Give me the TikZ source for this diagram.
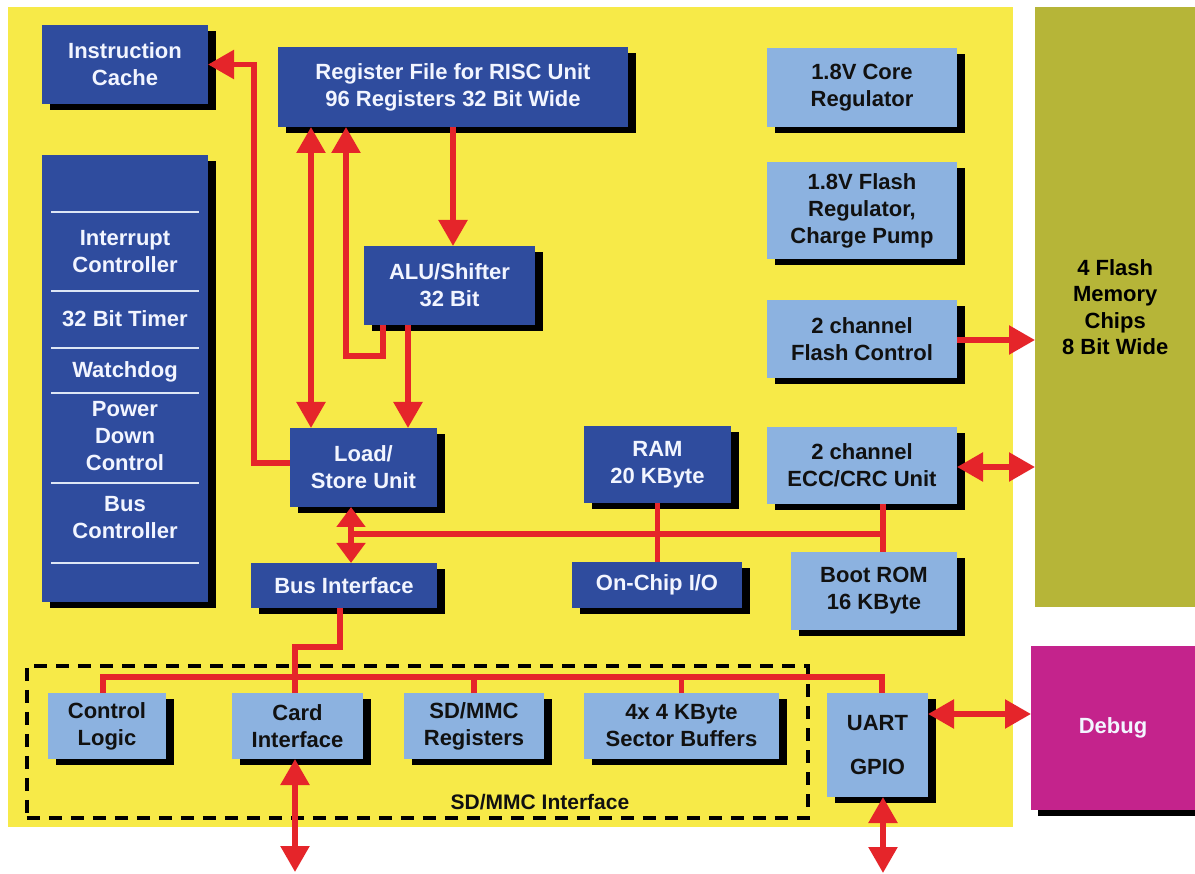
\documentclass[tikz,border=0pt]{standalone}
\usepackage{fontspec}
\setmainfont{Liberation Sans}
\usetikzlibrary{arrows.meta,shadows,calc}
\definecolor{bgyellow}{HTML}{F7EA48}
\definecolor{darkblue}{HTML}{2F4C9E}
\definecolor{lightblue}{HTML}{8CB2E0}
\definecolor{boxwhite}{HTML}{F2F5FF}
\definecolor{boxdark}{HTML}{111111}
\definecolor{wirered}{HTML}{E5252A}
\definecolor{olive}{HTML}{B6B538}
\definecolor{magentabox}{HTML}{C4238C}
\definecolor{seplight}{HTML}{DDE6F5}
\begin{document}
\begin{tikzpicture}[x=1pt,y=-1pt,
  txt/.style={font=\fontsize{22}{27}\selectfont\bfseries, align=center, inner sep=0pt},
  box/.style={txt, anchor=north west, outer sep=0pt,
    drop shadow={shadow xshift=8pt, shadow yshift=-6pt, fill=black, opacity=1}},
  dbox/.style={box, fill=darkblue, text=boxwhite},
  lbox/.style={box, fill=lightblue, text=boxdark},
  wire/.style={draw=wirered, line width=5.5pt},
  arr/.style={wire, -{Triangle[width=28pt,length=26pt]}},
  darr/.style={wire, {Triangle[width=28pt,length=26pt]}-{Triangle[width=28pt,length=26pt]}},
  sdarr/.style={wire, {Triangle[width=28pt,length=20pt]}-{Triangle[width=28pt,length=20pt]}},
  sep/.style={draw=seplight, line width=2.5pt},
]
\useasboundingbox (0,0) rectangle (1195,874);
\fill[white] (0,0) rectangle (1195,874);
\fill[bgyellow] (8,7) rectangle (1013,827);

% external blocks
\node[txt, anchor=north west, fill=olive, text=black, minimum width=160pt, minimum height=600pt,
  font=\fontsize{22}{26.5}\selectfont\bfseries] (flash) at (1035,7) {4 Flash\\Memory\\Chips\\8 Bit Wide};
\node[box, fill=magentabox, text=boxwhite, minimum width=164pt, minimum height=164pt,
  drop shadow={shadow xshift=7pt, shadow yshift=-6pt, fill=black, opacity=1}] (debug) at (1031,646) {Debug};
\fill[white] (1195,600) rectangle (1205,874);

% SD/MMC interface frame
\node[draw=black, dash pattern=on 13pt off 9pt, line width=3.5pt, anchor=north west,
  minimum width=781pt, minimum height=152pt, inner sep=0pt] (sdmmc) at (25,664) {};
\node[txt, text=boxdark, font=\fontsize{21}{26}\selectfont\bfseries] (sdlabel) at (540,802) {SD/MMC Interface};

% CPU blocks
\node[dbox, minimum width=166pt, minimum height=79pt] (ic) at (42,25) {Instruction\\Cache};
\node[dbox, minimum width=350pt, minimum height=80pt] (rf) at (278,47) {Register File for RISC Unit\\96 Registers 32 Bit Wide};
\node[dbox, minimum width=171pt, minimum height=79pt] (alu) at (364,246) {ALU/Shifter\\32 Bit};
\node[dbox, minimum width=166pt, minimum height=447pt] (ctrl) at (42,155) {};
\node[dbox, minimum width=147pt, minimum height=79pt] (ls) at (290,428) {Load/\\Store Unit};
\node[dbox, minimum width=147pt, minimum height=77pt] (ram) at (584,426) {RAM\\20 KByte};
\node[dbox, minimum width=186pt, minimum height=45pt] (bi) at (251,563) {Bus Interface};
\node[dbox, minimum width=170pt, minimum height=46pt] (oc) at (572,562) {On-Chip I/O};

% peripheral column
\node[lbox, minimum width=190pt, minimum height=79pt] (core) at (767,48) {1.8V Core\\Regulator};
\node[lbox, minimum width=190pt, minimum height=97pt] (freg) at (767,162) {1.8V Flash\\Regulator,\\Charge Pump};
\node[lbox, minimum width=190pt, minimum height=78pt] (fc) at (767,300) {2 channel\\Flash Control};
\node[lbox, minimum width=190pt, minimum height=77pt] (ecc) at (767,427) {2 channel\\ECC/CRC Unit};
\node[lbox, minimum width=166pt, minimum height=78pt] (br) at (791,552) {Boot ROM\\16 KByte};

% SD/MMC row
\node[lbox, minimum width=118pt, minimum height=66pt] (cl) at (48,693) {Control\\Logic};
\node[lbox, minimum width=131pt, minimum height=66pt] (card) at (232,693) {Card\\Interface};
\node[lbox, minimum width=140pt, minimum height=66pt] (sdr) at (404,693) {SD/MMC\\Registers};
\node[lbox, minimum width=195pt, minimum height=66pt] (sb) at (584,693) {4x 4 KByte\\Sector Buffers};
\node[lbox, minimum width=101pt, minimum height=104pt] (uart) at (827,693) {UART\\[17pt]GPIO};

% contents of the control column
\foreach \yy in {212,291,348,393,483,563} \draw[sep] (51,\yy) -- (199,\yy);
\node[txt, text=boxwhite] (t1) at (125,252) {Interrupt\\Controller};
\node[txt, text=boxwhite] (t2) at (125,319) {32 Bit Timer};
\node[txt, text=boxwhite] (t3) at (125,372) {Watchdog};
\node[txt, text=boxwhite] (t4) at (125,436) {Power\\Down\\Control};
\node[txt, text=boxwhite] (t5) at (125,518) {Bus\\Controller};

% connectors
\draw[arr] (rf.south) -- (rf.south |- alu.north);
\coordinate (lsa) at ($(ls.north west)+(21,0)$);
\draw[darr] (lsa) -- (lsa |- rf.south);
\coordinate (alua) at ($(alu.south west)+(19,0)$);
\coordinate (rfa) at ($(rf.south west)+(68,0)$);
\draw[arr] (alua) -- ++(0,31) -| (rfa);
\coordinate (alub) at ($(alu.south west)+(44,0)$);
\draw[arr] (alub) -- (alub |- ls.north);
\coordinate (lsw) at ($(ls.north west)+(0,35)$);
\draw[arr] (lsw) -- ++(-36,0) |- (ic.east);

\coordinate (lsb) at ($(ls.south west)+(61,0)$);
\draw[sdarr] (lsb) -- (lsb |- bi.north);
\coordinate (busL) at ($(lsb)+(0,27)$);
\coordinate (eccd) at ($(ecc.south west)+(116,0)$);
\draw[wire] (busL) -- (busL -| eccd);
\draw[wire] (eccd) -- (eccd |- br.north);
\draw[wire] (ram.south) -- (ram.south |- oc.north);

\coordinate (eccr) at ($(ecc.north east)+(0,40)$);
\draw[darr] (eccr) -- (eccr -| flash.west);
\coordinate (fcr) at ($(fc.north east)+(0,40)$);
\draw[arr] (fcr) -- (fcr -| flash.west);
\coordinate (uartr) at ($(uart.north east)+(0,21)$);
\draw[darr] (uartr) -- (uartr -| debug.west);

% SD/MMC bus
\coordinate (bis) at ($(bi.south west)+(89,0)$);
\coordinate (cardt) at ($(card.north west)+(63,0)$);
\draw[wire] (bis) -- ++(0,39) -| (cardt);
\coordinate (clt) at ($(cl.north west)+(55,0)$);
\coordinate (uartt) at ($(uart.north west)+(55,0)$);
\draw[wire, line join=miter] (clt) -- ++(0,-16) coordinate (sdbus) -| (uartt);
\draw[wire] (sdr.north) -- (sdr.north |- sdbus);
\draw[wire] (sb.north) -- (sb.north |- sdbus);

% external lines
\coordinate (cardb) at ($(card.south west)+(63,0)$);
\draw[darr] (cardb) -- ++(0,113);
\coordinate (uartb) at ($(uart.south west)+(56,0)$);
\draw[darr] (uartb) -- ++(0,76);
\end{tikzpicture}
\end{document}
